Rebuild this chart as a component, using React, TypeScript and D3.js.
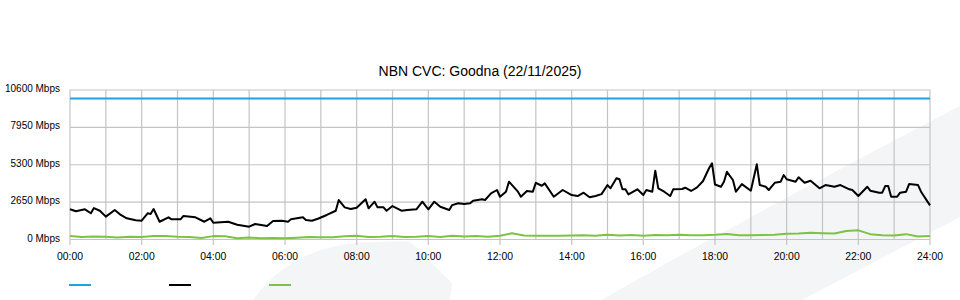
import React from "react";
import * as d3 from "d3";

const TITLE = "NBN CVC: Goodna (22/11/2025)";
const yTicks = [0, 2650, 5300, 7950, 10600];
const yTickLabels = ["0 Mbps", "2650 Mbps", "5300 Mbps", "7950 Mbps", "10600 Mbps"];
const xTickLabels = ["00:00", "02:00", "04:00", "06:00", "08:00", "10:00", "12:00", "14:00", "16:00", "18:00", "20:00", "22:00", "24:00"];
const gridHours = d3.range(0, 25);

// Capacity (blue)
const capacityMinutes = [0, 1440];
const capacityMbps = [10000, 10000];

// Utilisation (black) - minutes since midnight and Mbps
const usageMinutes = [
  0, 10, 25, 35, 40, 50, 60, 75, 85, 95, 110, 120, 130, 135, 140, 150, 165, 170, 185, 190,
  210, 225, 235, 240, 265, 280, 300, 310, 330, 340, 355, 365, 370, 390, 395, 405, 415, 430, 445, 450,
  460, 470, 480, 495, 500, 510, 515, 525, 530, 540, 555, 565, 580, 590, 600, 610, 620, 635, 640, 650,
  660, 670, 675, 690, 695, 705, 715, 720, 730, 735, 750, 755, 765, 775, 780, 790, 795, 810, 825, 840,
  850, 860, 870, 880, 890, 900, 905, 915, 920, 925, 930, 935, 950, 960, 965, 975, 980, 985, 995, 1005,
  1010, 1025, 1030, 1040, 1050, 1060, 1070, 1075, 1080, 1090, 1095, 1100, 1110, 1115, 1125, 1140, 1150, 1155, 1165, 1170,
  1180, 1190, 1195, 1200, 1215, 1220, 1230, 1240, 1255, 1265, 1280, 1290, 1305, 1310, 1320, 1335, 1340, 1355, 1360, 1365,
  1370, 1375, 1385, 1390, 1400, 1405, 1420, 1425, 1440,
];
const usageMbps = [
  2140, 2000, 2140, 1860, 2230, 2040, 1620, 2090, 1740, 1500, 1360, 1330, 1860, 1810, 2160, 1260, 1570, 1430, 1430, 1670,
  1570, 1260, 1500, 1190, 1260, 1050, 910, 1100, 960, 1310, 1330, 1260, 1430, 1570, 1380, 1330, 1470, 1740, 2040, 2800,
  2280, 2160, 2250, 2850, 2210, 2680, 2280, 2280, 2040, 2370, 2040, 2090, 2140, 2680, 2140, 2680, 2320, 2090, 2440, 2570,
  2520, 2570, 2750, 2850, 2800, 3270, 3510, 3030, 3390, 4100, 3390, 3030, 3440, 3390, 4020, 3810, 3980, 3030, 3510, 3150,
  3080, 3320, 2990, 3080, 3220, 3860, 3630, 4340, 4270, 3560, 3560, 3200, 3560, 3150, 3510, 3390, 4880, 3630, 3390, 3080,
  3560, 3580, 3670, 3440, 3700, 4150, 5050, 5400, 3900, 3740, 4100, 4800, 4220, 3390, 3930, 3460, 5330, 3860, 3740, 3510,
  4020, 4100, 4570, 4270, 4100, 4410, 4020, 4170, 3630, 3860, 3740, 3860, 3560, 3510, 3080, 3740, 3460, 3320, 3320, 3790,
  3790, 3030, 3030, 3320, 3390, 3930, 3860, 3390, 2420,
];

// Upload (green) - every 20 minutes
const uploadMinutes = d3.range(0, 1441, 20);
const uploadMbps = [
  250, 170, 220, 200, 150, 190, 180, 250, 250, 200, 180, 100, 240, 230, 90, 140, 90, 100, 90, 130,
  170, 160, 160, 230, 260, 170, 200, 250, 180, 200, 250, 170, 260, 220, 250, 200, 270, 440, 280, 270,
  270, 270, 280, 300, 260, 330, 280, 320, 260, 320, 300, 340, 300, 300, 330, 390, 300, 300, 320, 340,
  400, 420, 470, 450, 420, 600, 650, 380, 300, 280, 380, 220, 240,
];

const legendColors = ["#1ea3e0", "#000000", "#7dc242"];

const W = 960;
const H = 300;
const FONT = "'Liberation Sans', Arial, sans-serif";

export default function App() {
  const x = d3.scaleLinear().domain([0, 1440]).range([70, 930]);
  const y = d3.scaleLinear().domain([0, 10600]).range([239.5, 90]);

  const mk = (mins: number[], vals: number[]) =>
    d3
      .line<number>()
      .x((_, i) => x(mins[i]))
      .y((v) => y(v))(vals) || "";

  const watermark1 = d3.path();
  watermark1.moveTo(253, 300);
  watermark1.quadraticCurveTo(290, 248, 360, 242.5);
  watermark1.quadraticCurveTo(390, 241, 410, 241.5);
  watermark1.lineTo(452, 283);
  watermark1.lineTo(450, 300);
  watermark1.closePath();

  const watermark2 = d3.path();
  watermark2.moveTo(601, 300);
  watermark2.quadraticCurveTo(760, 210, 960, 106);
  watermark2.lineTo(960, 217);
  watermark2.lineTo(802, 300);
  watermark2.closePath();

  return (
    <svg width={W} height={H} style={{ position: "absolute", left: 0, top: 0, display: "block" }} fontFamily={FONT}>
      <rect x={0} y={0} width={W} height={H} fill="#ffffff" />
      <path d={watermark1.toString()} fill="#f4f5f7" />
      <path d={watermark2.toString()} fill="#f4f5f7" />

      <text x={480} y={76} textAnchor="middle" fontSize={14} fill="#000">
        {TITLE}
      </text>

      {/* horizontal grid */}
      {yTicks.map((t) => (
        <line key={"h" + t} x1={70} x2={930} y1={y(t)} y2={y(t)} stroke="#c4c4c4" strokeWidth={1.2} />
      ))}
      {/* vertical grid */}
      {gridHours.map((h) => (
        <line
          key={"v" + h}
          x1={x(h * 60)}
          x2={x(h * 60)}
          y1={90}
          y2={h % 2 === 0 ? 245 : 239.5}
          stroke="#c4c4c4"
          strokeWidth={1.2}
        />
      ))}

      {yTicks.map((t, i) => (
        <text key={"yl" + t} x={60} y={y(t) + 2} textAnchor="end" fontSize={10} fill="#000">
          {yTickLabels[i]}
        </text>
      ))}
      {xTickLabels.map((l, i) => (
        <text key={"xl" + l} x={x(i * 120)} y={260} textAnchor="middle" fontSize={10.4} fill="#000">
          {l}
        </text>
      ))}

      <path d={mk(capacityMinutes, capacityMbps)} fill="none" stroke={legendColors[0]} strokeWidth={2} />
      <path d={mk(uploadMinutes, uploadMbps)} fill="none" stroke={legendColors[2]} strokeWidth={2} strokeLinejoin="round" />
      <path d={mk(usageMinutes, usageMbps)} fill="none" stroke={legendColors[1]} strokeWidth={2} strokeLinejoin="round" />

      {legendColors.map((c, i) => (
        <line key={"lg" + i} x1={69 + i * 100} x2={91 + i * 100} y1={285} y2={285} stroke={c} strokeWidth={2} />
      ))}
    </svg>
  );
}
